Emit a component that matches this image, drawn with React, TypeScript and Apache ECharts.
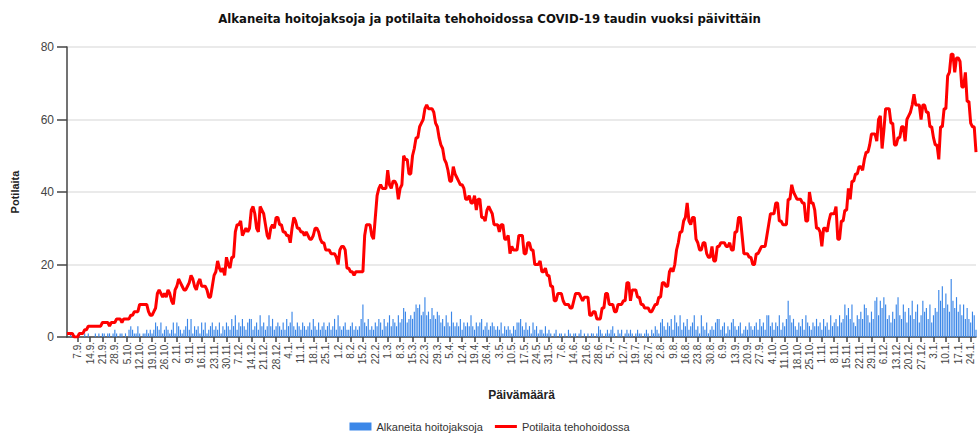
import React, { useEffect, useRef } from "react";
import * as echarts from "echarts";

// First day of data: 1.9.2020, one value per day
const START_DATE = [2020, 8, 1];
const TITLE = "Alkaneita hoitojaksoja ja potilaita tehohoidossa COVID-19 taudin vuoksi päivittäin";
const SERIES_NAMES = ["Alkaneita hoitojaksoja", "Potilaita tehohoidossa"];
const X_NAME = "Päivämäärä";
const Y_NAME = "Potilaita";

// Potilaita tehohoidossa (red line)
const icuPatients = [
  1,1,1,1,0,0,0,1,1,1,
  2,2,3,3,3,3,3,3,3,3,
  4,4,4,4,3,4,4,4,5,5,
  5,4,5,5,5,5,6,6,7,7,
  7,9,9,9,9,9,7,6,6,7,
  8,12,13,12,11,12,11,13,12,10,
  9,13,14,16,15,14,13,13,14,15,
  17,16,14,13,15,16,14,14,14,13,
  11,11,14,17,18,21,19,18,19,17,
  22,20,19,22,22,29,31,31,32,28,
  29,30,29,30,35,36,34,30,29,36,
  35,34,31,28,27,30,31,30,33,33,
  31,31,29,29,28,28,26,30,33,32,
  30,30,29,29,28,29,28,27,27,28,
  30,30,29,27,26,26,24,24,24,23,
  23,23,22,20,24,25,25,24,19,19,
  18,18,17,18,18,18,18,18,28,31,
  31,31,28,27,33,39,41,42,41,41,
  41,46,42,41,43,43,42,38,41,42,
  50,49,49,45,45,50,52,55,55,58,
  59,60,63,64,63,63,63,62,59,58,
  55,53,52,49,48,46,43,43,47,45,
  44,43,42,42,41,38,38,39,37,37,
  39,35,38,38,33,33,32,35,36,35,
  34,31,31,31,29,31,31,27,27,28,
  23,25,24,24,24,28,28,28,23,23,
  26,26,24,24,20,20,20,21,18,18,
  19,17,17,14,14,10,10,12,12,12,
  10,9,9,9,8,8,10,12,12,12,
  11,10,11,11,11,6,6,7,7,5,
  5,5,8,8,12,12,9,9,9,7,
  7,9,9,9,10,10,15,15,10,13,
  13,13,11,11,9,9,8,8,8,7,
  7,8,9,9,11,11,15,15,14,14,
  18,19,18,20,24,26,29,29,32,33,
  37,32,31,33,33,27,26,24,24,26,
  26,23,22,22,25,21,21,25,25,26,
  26,26,25,25,26,24,24,29,29,33,
  33,28,23,23,23,22,22,20,20,23,
  23,24,25,25,25,28,31,34,34,34,
  37,37,32,32,31,31,31,38,38,42,
  40,39,38,38,38,37,37,32,32,40,
  37,37,35,30,30,29,25,30,30,29,
  32,34,34,34,36,27,27,32,32,35,
  35,41,38,43,43,45,45,47,47,46,
  49,51,51,53,56,56,56,54,60,61,
  52,57,63,63,63,59,59,53,53,55,
  55,58,58,54,60,61,62,64,67,64,
  64,64,60,64,64,62,62,58,58,55,
  53,53,49,58,58,63,63,72,73,78,
  78,73,77,77,76,69,69,73,65,65,
  59,58,58,51,
];

// Alkaneita hoitojaksoja (blue bars)
const newPeriods = [
  0,0,1,0,0,0,0,1,0,0,1,0,
  1,0,0,0,1,0,1,0,1,1,0,1,
  1,0,1,2,1,0,1,1,0,1,0,2,
  3,2,1,1,3,1,0,1,1,2,1,2,
  1,2,4,3,2,4,1,2,3,2,1,2,
  4,1,4,3,2,1,2,3,5,2,5,1,
  3,2,3,1,4,2,4,1,2,3,4,2,
  3,2,4,1,3,2,4,3,2,5,3,6,
  2,4,3,5,3,2,4,5,5,2,3,4,
  2,6,3,4,2,3,6,3,5,2,3,4,
  3,2,4,2,5,3,4,7,3,2,4,3,
  2,4,3,2,3,4,2,5,3,2,4,2,
  3,4,2,3,4,2,3,5,2,6,3,2,
  3,4,2,2,3,4,2,3,2,3,5,9,
  4,3,5,2,
  3,2,4,3,5,4,2,5,3,4,6,3,
  5,4,3,6,4,5,8,7,4,5,6,5,
  7,9,8,9,6,7,11,6,7,5,8,6,
  5,7,6,4,5,3,6,4,3,7,4,3,
  4,3,5,2,4,3,4,3,6,3,2,4,
  3,4,5,2,3,4,2,3,4,3,2,3,
  2,4,1,3,2,3,2,1,3,2,4,4,
  5,3,2,4,2,3,1,4,2,3,1,2,
  2,1,3,1,2,1,0,1,2,0,1,1,
  0,1,0,2,1,0,1,1,0,1,2,0,
  1,0,1,0,1,1,0,1,3,2,1,0,
  1,2,1,2,3,1,0,2,1,2,0,1,
  2,1,2,1,0,1,2,1,1,0,1,2,
  1,0,2,1,3,2,1,4,5,3,2,4,
  3,5,2,6,4,3,6,2,4,3,5,2,
  3,4,6,2,3,1,6,3,2,4,1,2,
  3,2,4,5,5,2,3,4,1,3,2,4,
  5,3,2,3,4,1,2,3,2,4,3,2,
  3,4,2,5,3,4,2,6,6,3,4,2,
  4,3,6,2,4,3,5,10,6,4,5,3,
  2,4,3,5,2,6,4,3,2,4,3,5,
  3,4,2,5,3,4,2,6,3,4,5,3,
  6,4,5,9,6,8,5,9,4,3,6,5,
  7,5,9,8,6,4,7,5,10,11,6,10,
  8,11,9,5,6,4,7,5,9,11,6,5,
  9,7,4,8,6,10,5,7,9,4,6,10,
  7,8,5,9,4,6,8,7,13,10,14,8,
  12,9,7,16,10,8,11,7,9,6,9,5,
  8,5,4,7,6,2,
];

const Y_MIN = 0;
const Y_MAX = 80;
const Y_STEP = 20;
// first labelled day (7.9.) index and label step in days
const LABEL_OFFSET = 6;
const LABEL_STEP = 7;

function buildDates(n: number): string[] {
  const out: string[] = [];
  for (let i = 0; i < n; i++) {
    const d = new Date(START_DATE[0], START_DATE[1], START_DATE[2] + i);
    out.push(`${d.getDate()}.${d.getMonth() + 1}.`);
  }
  return out;
}

export default function App() {
  const ref = useRef<HTMLDivElement>(null);
  useEffect(() => {
    if (!ref.current) return;
    const chart = echarts.init(ref.current, undefined, { renderer: "svg" });
    const dates = buildDates(icuPatients.length);
    const showIdx = (i: number) => i >= LABEL_OFFSET && (i - LABEL_OFFSET) % LABEL_STEP === 0;
    const font = "'Liberation Sans', Arial, sans-serif";
    chart.setOption({
      animation: false,
      backgroundColor: "#ffffff",
      textStyle: { fontFamily: font },
      title: {
        text: TITLE,
        left: "center",
        top: 7,
        textStyle: {
          fontFamily: "'Liberation Sans Narrow', 'Arial Narrow', 'DejaVu Sans Condensed', sans-serif",
          fontSize: 13,
          fontWeight: "bold",
          color: "#111",
        },
      },
      grid: { left: 67, right: 3, top: 47, bottom: 98, containLabel: false },
      legend: {
        left: "center",
        top: 416,
        itemWidth: 22,
        itemHeight: 8,
        itemGap: 12,
        textStyle: { fontSize: 11, color: "#333", fontFamily: font },
        data: [
          { name: SERIES_NAMES[0], icon: "rect" },
          { name: SERIES_NAMES[1], icon: "path://M0 0H22V3H0Z", itemStyle: { color: "#ff0000" } },
        ],
      },
      xAxis: {
        type: "category",
        data: dates,
        boundaryGap: false,
        name: X_NAME,
        nameLocation: "middle",
        nameGap: 52,
        nameTextStyle: { fontSize: 12, fontWeight: "bold", color: "#222", fontFamily: font },
        axisLine: { lineStyle: { color: "#444", width: 1.5 } },
        axisTick: {
          interval: (i: number) => showIdx(i),
          length: 5,
          lineStyle: { color: "#444", width: 1.5 },
        },
        axisLabel: {
          interval: (i: number) => showIdx(i),
          rotate: 90,
          fontSize: 10,
          color: "#444",
          margin: 5,
          fontFamily: font,
        },
        splitLine: { show: false },
      },
      yAxis: {
        type: "value",
        min: Y_MIN,
        max: Y_MAX,
        interval: Y_STEP,
        name: Y_NAME,
        nameLocation: "middle",
        nameGap: 47,
        nameRotate: 90,
        nameTextStyle: { fontSize: 11, fontWeight: "bold", color: "#222", fontFamily: font },
        axisLine: { show: true, lineStyle: { color: "#444", width: 1.5 } },
        axisTick: { show: true, length: 10, lineStyle: { color: "#444", width: 1.5 } },
        axisLabel: { fontSize: 12, color: "#444", margin: 13, fontFamily: font },
        splitLine: { lineStyle: { color: "#e3e3e3", width: 1.5 } },
      },
      series: [
        {
          name: SERIES_NAMES[0],
          type: "bar",
          data: newPeriods,
          barCategoryGap: "35%",
          itemStyle: { color: "#3b87e8" },
          z: 1,
        },
        {
          name: SERIES_NAMES[1],
          type: "line",
          data: icuPatients,
          symbol: "none",
          showSymbol: false,
          lineStyle: { color: "#ff0000", width: 3 },
          itemStyle: { color: "#ff0000" },
          z: 3,
        },
      ],
    });
    return () => chart.dispose();
  }, []);
  return (
    <div
      ref={ref}
      style={{ position: "fixed", left: 0, top: 0, width: 979, height: 435, background: "#fff" }}
    />
  );
}
